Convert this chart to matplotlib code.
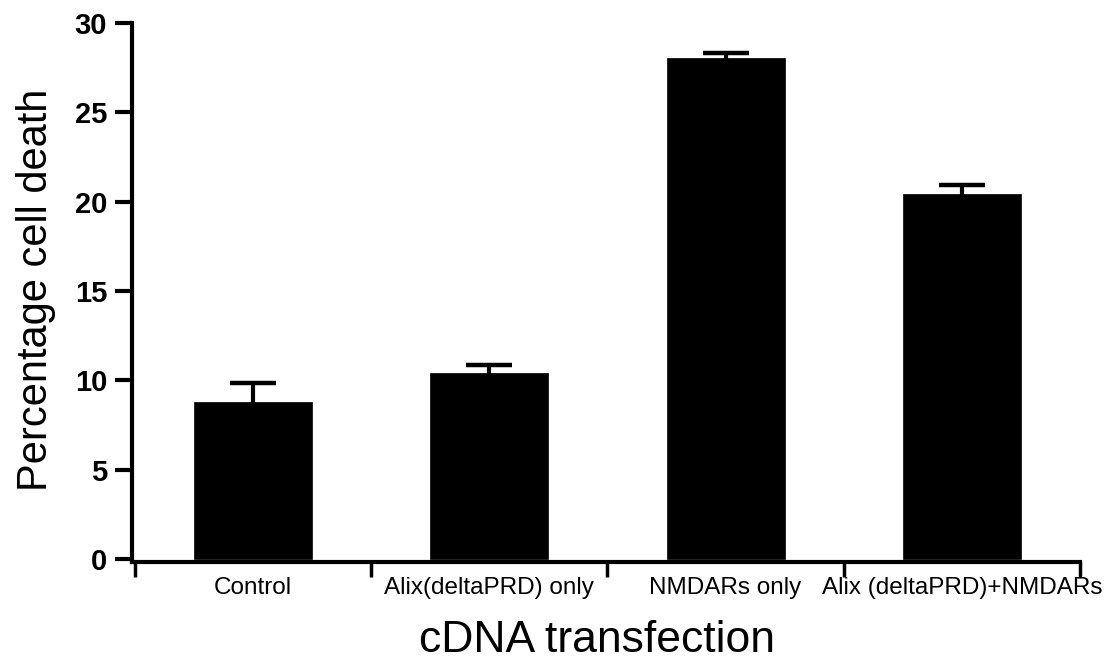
import matplotlib.pyplot as plt
import numpy as np

categories = ['Control', 'Alix(deltaPRD) only', 'NMDARs only', 'Alix (deltaPRD)+NMDARs']
cell_death = [8.80, 10.39, 28.05, 20.43]
sem = [1.03, 0.47, 0.29, 0.52]
y_ticks = [0, 5, 10, 15, 20, 25, 30]

if __name__ == '__main__':
    plt.rcParams['font.family'] = ['Liberation Sans', 'DejaVu Sans']
    fig = plt.figure(figsize=(11.15, 6.62), dpi=100)
    ax = fig.add_axes([0.1184, 0.1511, 0.8502, 0.8142])

    x = np.arange(len(categories))
    # error bars sit behind the bars so only the upper half shows
    ax.errorbar(x, cell_death, yerr=sem, fmt='none', ecolor='black',
                elinewidth=3, capsize=16.5, capthick=3.2, zorder=1)
    ax.bar(x, cell_death, width=0.5, color='black', edgecolor='black', linewidth=0.5, zorder=2)

    ax.set_xlim(-0.5125, 3.5)
    ax.set_ylim(-0.17, 30)
    ax.set_yticks(y_ticks)
    ax.set_yticklabels([str(t) for t in y_ticks], fontsize=21, fontweight='bold')
    ax.set_xticks(x)
    ax.set_xticklabels(categories, fontsize=17.5)
    ax.set_xticks(np.arange(-0.5, 4, 1), minor=True)

    ax.tick_params(axis='y', length=12, width=3, pad=6)
    ax.tick_params(axis='x', which='major', length=0, pad=11)
    ax.tick_params(axis='x', which='minor', length=11, width=2.5)

    for side in ['top', 'right']:
        ax.spines[side].set_visible(False)
    for side in ['left', 'bottom']:
        ax.spines[side].set_linewidth(3)

    ax.set_ylabel('Percentage cell death', fontsize=30)
    ax.yaxis.set_label_coords(-0.08, 0.505)
    ax.set_xlabel('cDNA transfection', fontsize=32)
    ax.xaxis.set_label_coords(0.49, -0.108)

    plt.savefig('out.png', dpi=100)
